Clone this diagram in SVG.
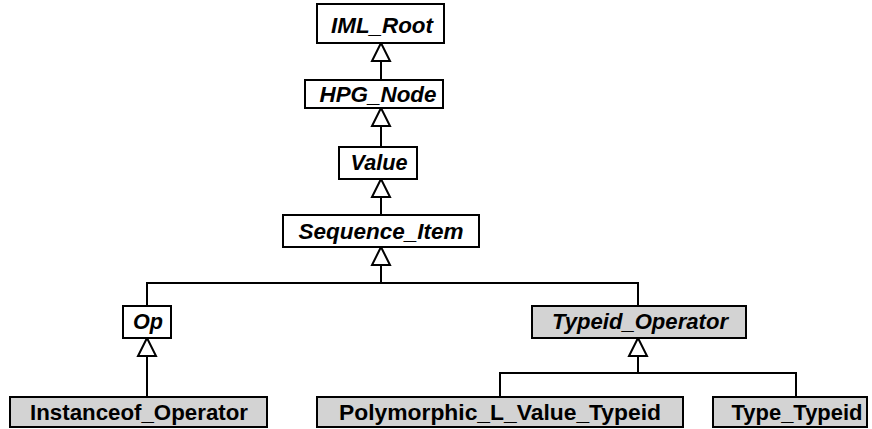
<svg xmlns="http://www.w3.org/2000/svg" width="872" height="429" viewBox="0 0 872 429">
  <style>
    .box { fill: #ffffff; stroke: #000000; stroke-width: 2; }
    .concrete { fill: #d3d3d3; stroke: #000000; stroke-width: 2; }
    .abs { font-family: "Liberation Sans", Arial, sans-serif; font-size: 22px; font-weight: bold; font-style: italic; text-anchor: middle; fill: #000000; }
    .lbl { font-family: "Liberation Sans", Arial, sans-serif; font-size: 22px; font-weight: bold; text-anchor: middle; fill: #000000; }
    .edge { fill: none; stroke: #000000; stroke-width: 2; }
    .head { fill: #ffffff; stroke: #000000; stroke-width: 2; stroke-linejoin: miter; }
  </style>
  <rect width="872" height="429" fill="#ffffff"/>

  <g id="connectors">
    <path class="edge" d="M381 61 V80"/>
    <path class="edge" d="M381 126 V147"/>
    <path class="edge" d="M381 197 V215"/>
    <path class="edge" d="M381 265 V283 M147 306 V283 H638 V306"/>
    <path class="edge" d="M147 356 V397"/>
    <path class="edge" d="M638 356 V373 M500 397 V373 H796 V397"/>
    <polygon class="head" points="381,43 372,61 390,61"/>
    <polygon class="head" points="381,108 372,126 390,126"/>
    <polygon class="head" points="381,179 372,197 390,197"/>
    <polygon class="head" points="381,247 372,265 390,265"/>
    <polygon class="head" points="147,338 138,356 156,356"/>
    <polygon class="head" points="638,338 629,356 647,356"/>
  </g>

  <g id="IML_Root">
    <rect class="box" x="317" y="4" width="127" height="39"/>
    <text class="abs" x="382" y="33" textLength="102" lengthAdjust="spacingAndGlyphs">IML_Root</text>
  </g>
  <g id="HPG_Node">
    <rect class="box" x="305" y="80" width="138" height="28"/>
    <text class="abs" x="378" y="102" textLength="117" lengthAdjust="spacingAndGlyphs">HPG_Node</text>
  </g>
  <g id="Value">
    <rect class="box" x="339" y="147" width="78" height="32"/>
    <text class="abs" x="379" y="170" textLength="57" lengthAdjust="spacingAndGlyphs">Value</text>
  </g>
  <g id="Sequence_Item">
    <rect class="box" x="283" y="215" width="196" height="32"/>
    <text class="abs" x="381" y="239" textLength="165" lengthAdjust="spacingAndGlyphs">Sequence_Item</text>
  </g>
  <g id="Op">
    <rect class="box" x="123" y="306" width="48" height="32"/>
    <text class="abs" x="148" y="329" textLength="30" lengthAdjust="spacingAndGlyphs">Op</text>
  </g>
  <g id="Typeid_Operator">
    <rect class="concrete" x="532" y="306" width="214" height="32"/>
    <text class="abs" x="640" y="329" textLength="176" lengthAdjust="spacingAndGlyphs">Typeid_Operator</text>
  </g>
  <g id="Instanceof_Operator">
    <rect class="concrete" x="10" y="397" width="257" height="30"/>
    <text class="lbl" x="139" y="420" textLength="218" lengthAdjust="spacingAndGlyphs">Instanceof_Operator</text>
  </g>
  <g id="Polymorphic_L_Value_Typeid">
    <rect class="concrete" x="317" y="397" width="366" height="30"/>
    <text class="lbl" x="500" y="420" textLength="322" lengthAdjust="spacingAndGlyphs">Polymorphic_L_Value_Typeid</text>
  </g>
  <g id="Type_Typeid">
    <rect class="concrete" x="713" y="397" width="154" height="30"/>
    <text class="lbl" x="797" y="420" textLength="131" lengthAdjust="spacingAndGlyphs">Type_Typeid</text>
  </g>
</svg>
